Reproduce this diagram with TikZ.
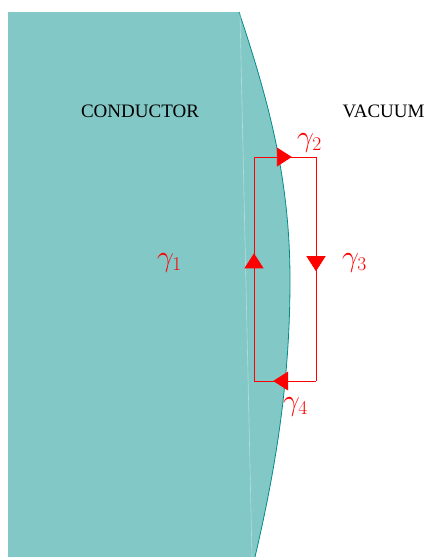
\documentclass[tikz,border=0pt]{standalone}
\usepackage{fix-cm}
\usepackage[no-math]{fontspec}
\setmainfont{Liberation Serif}
\DeclareMathSizes{30}{30}{19.5}{14}
\usetikzlibrary{decorations.markings,arrows.meta}
\definecolor{condfill}{RGB}{130,200,198}
\definecolor{condedge}{RGB}{0,140,140}
\begin{document}
\begin{tikzpicture}[x=1pt,y=-1pt,
  region/.style={fill=condfill},
  boundary/.style={draw=condedge,line width=0.8pt},
  seam/.style={draw=condfill!60!white,line width=0.6pt},
  loopline/.style={draw=red,line width=0.9pt},
  arrowat/.style={postaction={decorate,decoration={markings,
      mark=at position #1 with {\arrow{Triangle[length=15pt,width=19pt]}}}}},
  lbl/.style={font=\fontsize{19}{22}\selectfont,inner sep=0pt},
  glbl/.style={text=red,font=\fontsize{30}{32}\selectfont,inner sep=0pt,anchor=base west}]
\useasboundingbox (0,0) rectangle (425,557);
\fill[region] (8,557) -- (8,12) -- (239,12) .. controls (269,102) and (290,180) .. (290,280) .. controls (290,380) and (276,467) .. (255,557) -- cycle;
\draw[boundary] (239,12) .. controls (269,102) and (290,180) .. (290,280) .. controls (290,380) and (276,467) .. (255,557);
\draw[seam] (240,13) -- (252,557);
\node[lbl] (cond) at (140,111) {CONDUCTOR};
\node[lbl] (vac) at (383.5,111) {VACUUM};
\coordinate (A) at (254,157);
\coordinate (B) at (316,157);
\coordinate (C) at (316,381);
\coordinate (D) at (254,381);
\draw[loopline,arrowat=0.61] (A) -- (B);
\draw[loopline,arrowat=0.51] (B) -- (C);
\draw[loopline,arrowat=0.69] (C) -- (D);
\draw[loopline,arrowat=0.57] (D) -- (A);
\node[glbl] (g1) at (157,266) {$\gamma_1$};
\node[glbl] (g2) at (297,146) {$\gamma_2$};
\node[glbl] (g3) at (342,266) {$\gamma_3$};
\node[glbl] (g4) at (283,410) {$\gamma_4$};
\end{tikzpicture}
\end{document}
